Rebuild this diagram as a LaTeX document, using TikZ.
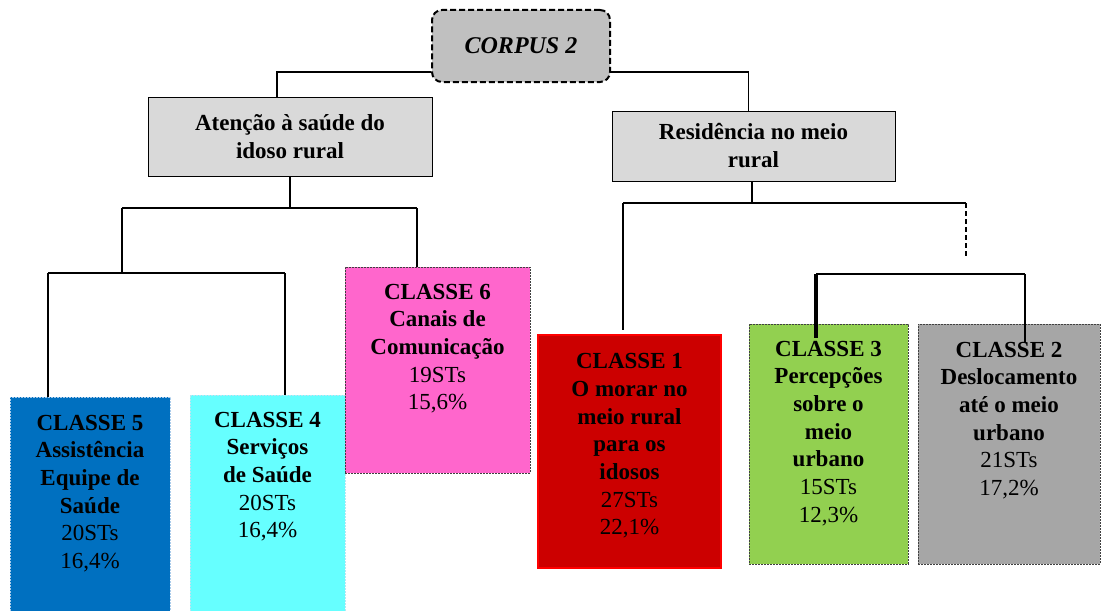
\documentclass[tikz,border=0pt]{standalone}
\usepackage{fontspec}
\setmainfont{Liberation Serif}
\usetikzlibrary{positioning}
\definecolor{headgray}{HTML}{D9D9D9}
\definecolor{corpusgray}{HTML}{C0C0C0}
\definecolor{c5fill}{HTML}{0070C0}
\definecolor{c5line}{HTML}{A9CBEA}
\definecolor{c4fill}{HTML}{66FFFF}
\definecolor{c4line}{HTML}{B8E6F2}
\definecolor{c6fill}{HTML}{FF66CC}
\definecolor{c1fill}{HTML}{CC0000}
\definecolor{c1line}{HTML}{FF0000}
\definecolor{c3fill}{HTML}{92D050}
\definecolor{c2fill}{HTML}{A6A6A6}
\definecolor{darkline}{HTML}{404040}

\begin{document}
\begin{tikzpicture}[x=1pt,y=-1pt,
      head/.style={
         rectangle,
         draw=black,
         line width=0.8pt,
         fill=headgray,
         align=center,
         inner sep=0pt,
         font=\bfseries\fontsize{23}{28}\selectfont
      },
      corpus/.style={
         rectangle,
         rounded corners=10pt,
         draw=black,
         line width=2pt,
         dash pattern=on 6pt off 3pt,
         fill=corpusgray,
         inner sep=0pt,
         font=\bfseries\itshape\fontsize{24}{28}\selectfont
      },
      classe/.style={
         rectangle,
         line width=0.8pt,
         dash pattern=on 2pt off 1pt,
         inner sep=0pt
      },
      clstxt/.style={
         align=center,
         inner sep=0pt,
         font=\fontsize{23}{27.7}\selectfont
      },
      link/.style={line width=1.8pt,draw=black},
      thick link/.style={line width=3.5pt,draw=black}
    ]
    \useasboundingbox (0,0) rectangle (1102,610);

    % top of the tree
    \node (corpus) [corpus, minimum width=178pt, minimum height=72pt] at (521,46) {CORPUS 2};
    \node (aten) [head, minimum width=284pt, minimum height=79pt] at (290,136.5)
       {Atenção à saúde do\\idoso rural};
    \node (res) [head, minimum width=283pt, minimum height=70pt] at (753.5,146)
       {Residência no meio\\rural};

    % classes
    \node (c5) [classe, fill=c5fill, draw=c5line, minimum width=160pt, minimum height=215pt] at (90,504.5) {};
    \node (c4) [classe, fill=c4fill, draw=c4line, minimum width=155pt, minimum height=217pt] at (267.5,503.5) {};
    \node (c6) [classe, fill=c6fill, draw=darkline, minimum width=185pt, minimum height=206pt] at (437.5,370) {};
    \node (c1) [classe, fill=c1fill, draw=c1line, solid, line width=1.5pt, minimum width=183pt, minimum height=233pt] at (629.5,451.5) {};
    \node (c3) [classe, fill=c3fill, draw=darkline, minimum width=159pt, minimum height=240pt] at (828.5,444) {};
    \node (c2) [classe, fill=c2fill, draw=darkline, minimum width=182pt, minimum height=240pt] at (1009,444) {};

    \node (t5) [clstxt, below=18pt of c5.north]
       {\textbf{CLASSE 5}\\\textbf{Assistência}\\\textbf{Equipe de}\\\textbf{Saúde}\\20STs\\16,4\%};
    \node (t4) [clstxt, below=17pt of c4.north]
       {\textbf{CLASSE 4}\\\textbf{Serviços}\\\textbf{de Saúde}\\20STs\\16,4\%};
    \node (t6) [clstxt, below=17pt of c6.north]
       {\textbf{CLASSE 6}\\\textbf{Canais de}\\\textbf{Comunicação}\\19STs\\15,6\%};
    \node (t1) [clstxt, below=19pt of c1.north]
       {\textbf{CLASSE 1}\\\textbf{O morar no}\\\textbf{meio rural}\\\textbf{para os}\\\textbf{idosos}\\ 27STs\\22,1\%};
    \node (t3) [clstxt, below=17pt of c3.north]
       {\textbf{CLASSE 3}\\\textbf{Percepções}\\\textbf{sobre o}\\\textbf{meio}\\\textbf{urbano}\\15STs\\12,3\%};
    \node (t2) [clstxt, below=18pt of c2.north]
       {\textbf{CLASSE 2}\\\textbf{Deslocamento}\\\textbf{até o meio}\\\textbf{urbano}\\21STs\\17,2\%};

    % junctions
    \coordinate (a1) at (122,208);
    \coordinate (a2) at (417,208);
    \coordinate (a3) at (48,273);
    \coordinate (a4) at (285,273);
    \coordinate (r1) at (623,203);
    \coordinate (r2) at (966,203);
    \coordinate (q1) at (816,274);
    \coordinate (q2) at (1025,274);

    % connectors
    \draw[link] ([yshift=-26pt]corpus.west) -| ([xshift=-13pt]aten.north);
    \draw[link] ([yshift=-26pt]corpus.east) -| ([xshift=-5pt]res.north);
    \draw[link] (aten.south) -- (aten.south |- a1);
    \draw[link] (a1) -- (a2);
    \draw[link] (a2) -- (a2 |- c6.north);
    \draw[link] (a1) -- (a1 |- a3);
    \draw[link] (a3) -- (a4);
    \draw[link] (a3) -- (a3 |- c5.north);
    \draw[link] (a4) -- (a4 |- c4.north);
    \draw[link] ([xshift=-1.5pt]res.south) -- ([xshift=-1.5pt]res.south |- r1);
    \draw[link] (r1) -- (r2);
    \draw[link] (r1) -- ([yshift=4pt]r1 |- c1.north);
    \draw[link, dash pattern=on 5pt off 3pt] (r2) -- ([yshift=66pt]r2 |- c2.north);
    \draw[link] (q1) -- (q2);
    \draw[thick link] (q1) -- ([yshift=-14pt]q1 |- c3.north);
    \draw[link] (q2) -- ([yshift=-18pt]q2 |- c2.north);
\end{tikzpicture}
\end{document}
